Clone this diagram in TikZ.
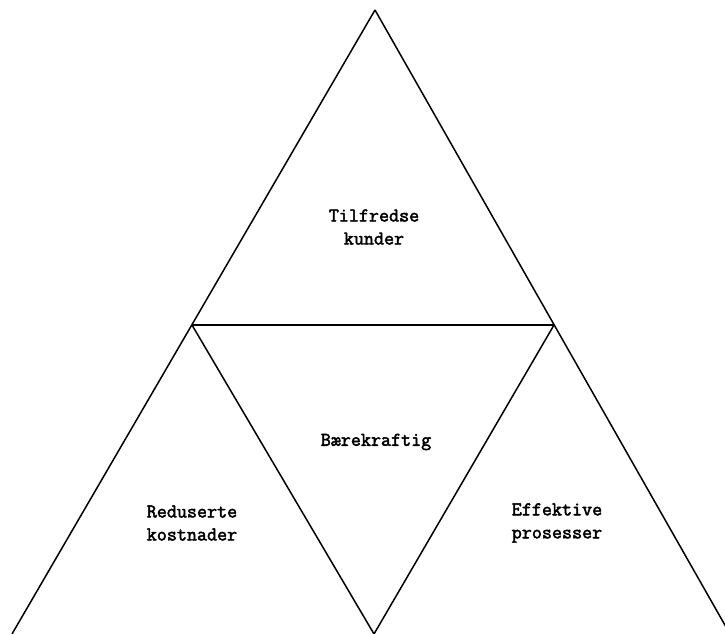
\documentclass[tikz,border=0pt]{standalone}
\usepackage{fontspec}
\newfontfamily\labelfont{Latin Modern Mono}[FakeBold=2.5]
\usepackage{tikz}
\usetikzlibrary{positioning}

\begin{document}
\begin{tikzpicture}[x=1pt, y=-1pt, line width=1.5pt,
    label/.style={align=center, font=\labelfont\bfseries\fontsize{19.5}{23}\selectfont, inner sep=0pt}]
   \useasboundingbox (0,0) rectangle (725,634);

   %corners
   \coordinate (top) at (375,10);
   \coordinate (ml) at (192,325);
   \coordinate (mr) at (554,325);
   \coordinate (bl) at (12,634);
   \coordinate (bm) at (374,634);
   \coordinate (br) at (730,634);

   %texts
   \node[label] (kunder) at (374,227) {Tilfredse\\kunder};
   \node[label] (baere) at (376,442) {Bærekraftig};
   \node[label] (kost) at (192,523) {Reduserte\\kostnader};
   \node[label] (pros) at (557,523) {Effektive\\prosesser};

  \path[draw]
    (top) edge (bl)
          edge (br)
    (ml) edge (mr)
         edge (bm)
    (mr) edge (bm);
\end{tikzpicture}
\end{document}
